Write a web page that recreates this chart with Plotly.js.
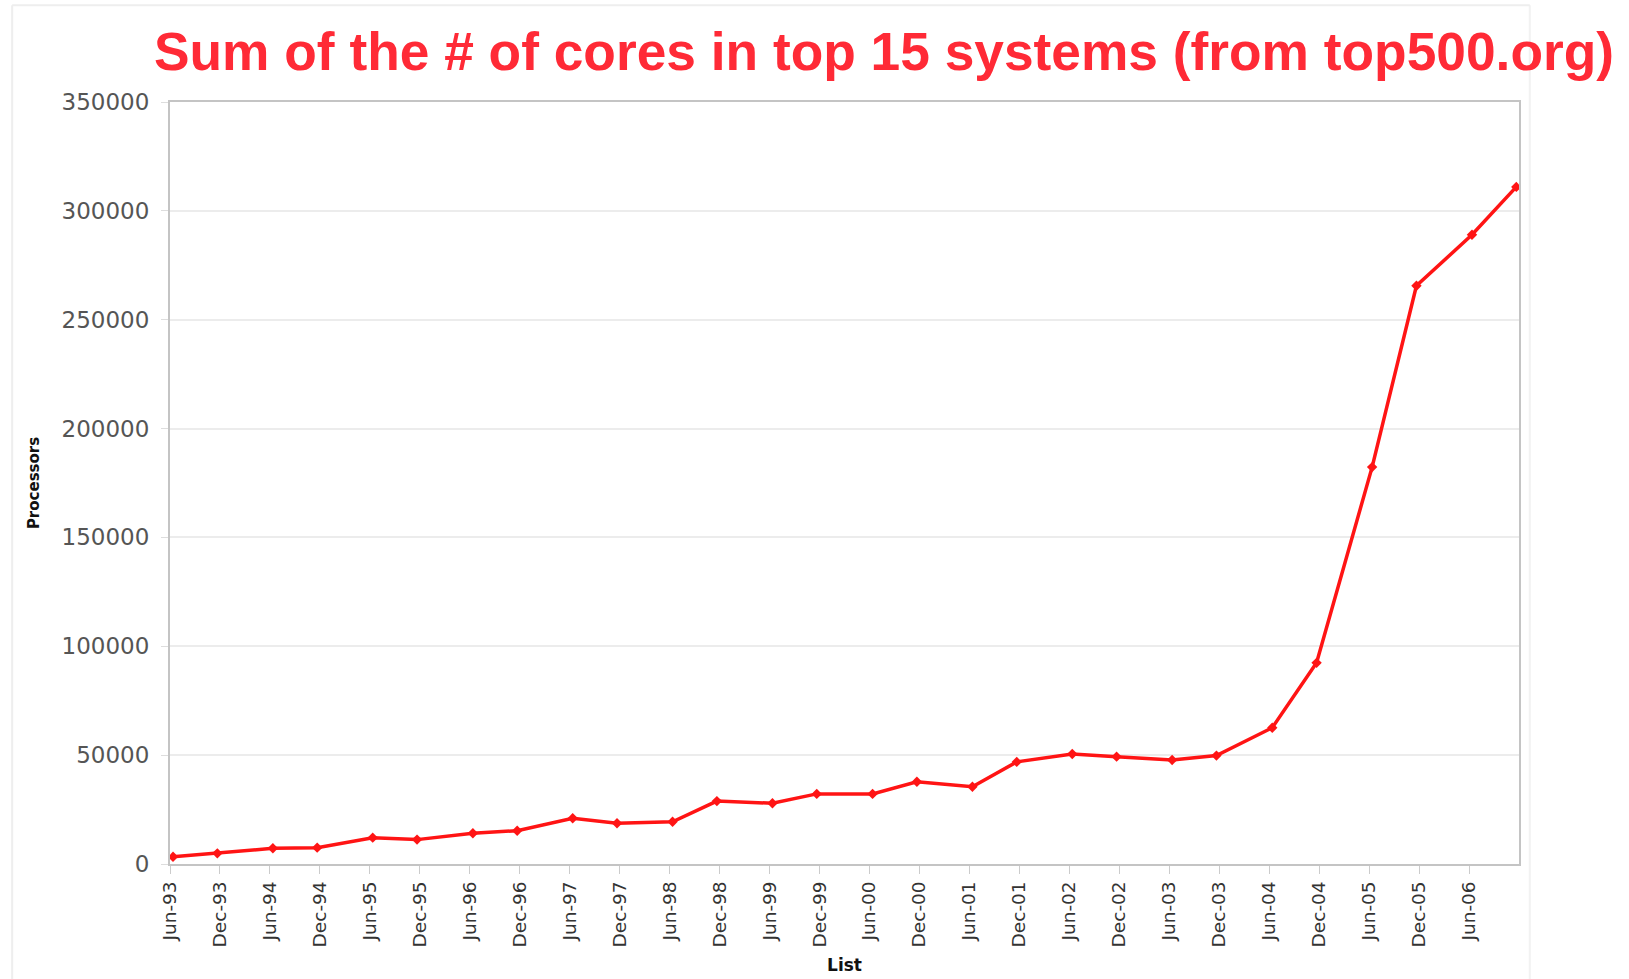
<!DOCTYPE html>
<html>
<head>
<meta charset="utf-8">
<script src="https://cdn.plot.ly/plotly-3.0.1.min.js"></script>
<style>
  html, body { margin: 0; padding: 0; background: #ffffff; }
  #chart { width: 1629px; height: 979px; }
</style>
</head>
<body>
<div id="chart"></div>
<script>
// TOP500 list dates (June and November lists)
const listDates = [
  '1993-06-01','1993-11-10','1994-06-01','1994-11-10','1995-06-01','1995-11-10',
  '1996-06-01','1996-11-10','1997-06-01','1997-11-10','1998-06-01','1998-11-10',
  '1999-06-01','1999-11-10','2000-06-01','2000-11-10','2001-06-01','2001-11-10',
  '2002-06-01','2002-11-10','2003-06-01','2003-11-10','2004-06-01','2004-11-10',
  '2005-06-01','2005-11-10','2006-06-01','2006-11-10'
];

// Tick labels shown on the axis (last list has no label)
const tickLabels = [
  'Jun-93','Dec-93','Jun-94','Dec-94','Jun-95','Dec-95','Jun-96','Dec-96',
  'Jun-97','Dec-97','Jun-98','Dec-98','Jun-99','Dec-99','Jun-00','Dec-00',
  'Jun-01','Dec-01','Jun-02','Dec-02','Jun-03','Dec-03','Jun-04','Dec-04',
  'Jun-05','Dec-05','Jun-06'
];

// Sum of processors in top 15 systems
const processors = [
  3300, 4900, 7200, 7500, 12100, 11200, 14100, 15300, 21000, 18700,
  19400, 28900, 27900, 32200, 32200, 37800, 35500, 46900, 50500, 49300,
  47800, 49800, 62600, 92400, 182300, 265600, 289000, 311000
];

// Evenly spaced half-year ticks, starting shortly before the first list
const DAY = 86400000;
const HALF_YEAR = 365.25 / 2 * DAY;
const firstTick = Date.parse(listDates[0] + 'T00:00:00Z') - 11 * DAY;
const tickPositions = tickLabels.map((_, i) => new Date(firstTick + i * HALF_YEAR).toISOString());
const axisRange = [new Date(firstTick).toISOString(),
                   new Date(firstTick + listDates.length * HALF_YEAR - HALF_YEAR).toISOString()];

const trace = {
  x: listDates,
  y: processors,
  type: 'scatter',
  mode: 'lines+markers',
  line: { color: '#ff1414', width: 3.5 },
  marker: { color: '#ff1414', size: 8, symbol: 'diamond' },
  hoverinfo: 'x+y',
  showlegend: false
};

const layout = {
  width: 1629,
  height: 979,
  paper_bgcolor: '#ffffff',
  plot_bgcolor: '#ffffff',
  margin: { l: 170, r: 110, t: 102, b: 115, pad: 0 },
  title: {
    text: 'Sum of the # of cores in top 15 systems (from top500.org)',
    font: { family: 'Liberation Sans, Arial, sans-serif', size: 53.3, color: '#ff2a36', weight: 'bold' },
    x: 884 / 1629,
    xanchor: 'center',
    xref: 'container',
    y: 1 - 51 / 979,
    yanchor: 'middle',
    yref: 'container'
  },
  xaxis: {
    type: 'date',
    range: axisRange,
    tickmode: 'array',
    tickvals: tickPositions,
    ticktext: tickLabels,
    tickangle: -90,
    tickfont: { family: 'DejaVu Sans, Verdana, sans-serif', size: 18.5, color: '#333333' },
    ticks: 'outside',
    ticklen: 8,
    tickcolor: '#cccccc',
    tickwidth: 1,
    showgrid: false,
    showline: true,
    linecolor: '#c4c4c4',
    linewidth: 2,
    mirror: true,
    zeroline: false,
    title: {
      text: '<b>List</b>',
      font: { family: 'DejaVu Sans, Verdana, sans-serif', size: 17, color: '#111111' },
      standoff: 13
    }
  },
  yaxis: {
    range: [0, 350000],
    dtick: 50000,
    tick0: 0,
    tickformat: 'd',
    tickfont: { family: 'DejaVu Sans, Verdana, sans-serif', size: 23, color: '#555555' },
    ticks: 'outside',
    ticklen: 7,
    tickcolor: '#dddddd',
    tickwidth: 1,
    ticklabelstandoff: 7,
    showgrid: true,
    gridcolor: '#ececec',
    gridwidth: 2,
    showline: true,
    linecolor: '#c4c4c4',
    linewidth: 2,
    mirror: true,
    zeroline: false,
    title: {
      text: '<b>Processors</b>',
      font: { family: 'DejaVu Sans, Verdana, sans-serif', size: 15, color: '#111111' },
      standoff: 18
    }
  },
  shapes: [
    { type: 'line', xref: 'paper', yref: 'paper', x0: -0.117, x1: -0.117, y0: -0.16, y1: 1.127,
      line: { color: '#eeeeee', width: 2 } },
    { type: 'line', xref: 'paper', yref: 'paper', x0: 1.008, x1: 1.008, y0: -0.16, y1: 1.127,
      line: { color: '#f2f2f2', width: 2 } },
    { type: 'line', xref: 'paper', yref: 'paper', x0: -0.117, x1: 1.008, y0: 1.127, y1: 1.127,
      line: { color: '#eeeeee', width: 2 } }
  ]
};

Plotly.newPlot('chart', [trace], layout, { displayModeBar: false, staticPlot: true });
</script>
</body>
</html>
